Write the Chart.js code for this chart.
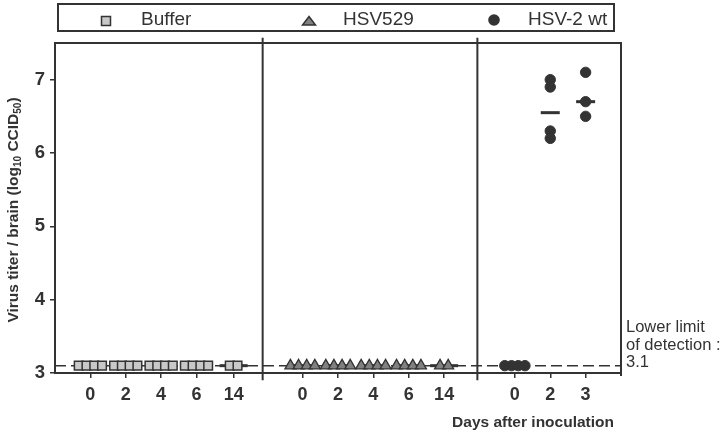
<!DOCTYPE html>
<html>
<head>
<meta charset="utf-8">
<script src="https://cdn.jsdelivr.net/npm/chart.js@4.4.1/dist/chart.umd.min.js"></script>
<style>
  body { margin: 0; background: #fff; }
  #wrap { position: relative; width: 722px; height: 434px; font-family: 'Liberation Sans', Arial, sans-serif; color: #333; }
  #legend { position: absolute; left: 57px; top: 3px; width: 554px; height: 25px; border: 2px solid #333; }
  .lg-text { position: absolute; top: 4px; font-size: 19px; line-height: 20px; white-space: nowrap; }
  .lg-mark { position: absolute; }
  #ytitle { position: absolute; left: -137px; top: 200px; width: 300px; height: 20px; line-height: 20px;
            text-align: center; font-weight: bold; font-size: 15.5px; transform: rotate(-90deg); white-space: nowrap; }
  #ytitle sub { font-size: 10px; vertical-align: -3px; line-height: 0; }
  #xtitle { position: absolute; right: 108px; top: 413px; line-height: 18px; font-weight: bold; font-size: 15.5px; white-space: nowrap; }
  #lod { position: absolute; left: 626px; top: 318px; font-size: 16.5px; line-height: 17.5px; white-space: nowrap; }
</style>
</head>
<body>
<div id="wrap">
  <canvas id="myChart" width="722" height="434"></canvas>
  <div id="legend">
    <svg class="lg-mark" style="left:41px;top:10px" width="12" height="12"><rect x="1.5" y="1.5" width="9" height="9" fill="#c8c8c8" stroke="#333" stroke-width="1.5"/></svg>
    <span class="lg-text" style="left:82px">Buffer</span>
    <svg class="lg-mark" style="left:242px;top:10px" width="16" height="12"><polygon points="8,1.5 14.5,10 1.5,10" fill="#808080" stroke="#333" stroke-width="1.5"/></svg>
    <span class="lg-text" style="left:284px">HSV529</span>
    <svg class="lg-mark" style="left:428px;top:8px" width="14" height="14"><circle cx="7" cy="7" r="5.8" fill="#333"/></svg>
    <span class="lg-text" style="left:469px">HSV-2 wt</span>
  </div>
  <div id="ytitle">Virus titer / brain (log<sub>10</sub> CCID<sub>50</sub>)</div>
  <div id="xtitle">Days after inoculation</div>
  <div id="lod">Lower limit<br>of detection :<br>3.1</div>
</div>
<script>
// kategori hari per panel dan posisinya pada sumbu x
const groupLabels = ['0', '2', '4', '6', '14', '0', '2', '4', '6', '14', '0', '2', '3'];
const groupX = [1, 2, 3, 4, 5.05, 7, 8, 9, 10, 11, 13, 14, 15];
const yTickValues = [3, 4, 5, 6, 7];
const detectionLimit = 3.1;
const panelDividers = [5.87, 11.94];

// Buffer
const bufferGroups = [0, 1, 2, 3, 4];
const bufferValues = [[3.1, 3.1, 3.1, 3.1], [3.1, 3.1, 3.1, 3.1], [3.1, 3.1, 3.1, 3.1], [3.1, 3.1, 3.1, 3.1], [3.1, 3.1]];
const bufferMeans = [3.1, 3.1, 3.1, 3.1, 3.1];

// HSV529
const hsv529Groups = [5, 6, 7, 8, 9];
const hsv529Values = [[3.1, 3.1, 3.1, 3.1], [3.1, 3.1, 3.1, 3.1], [3.1, 3.1, 3.1, 3.1], [3.1, 3.1, 3.1, 3.1], [3.1, 3.1]];
const hsv529Means = [3.1, 3.1, 3.1, 3.1, 3.1];

// HSV-2 wt
const wtGroups = [10, 11, 12];
const wtValues = [[3.1, 3.1, 3.1, 3.1], [7.0, 6.9, 6.3, 6.2], [7.1, 6.7, 6.5]];
const wtMeans = [3.1, 6.55, 6.7];

const ink = '#333';

// titik di batas deteksi disebar mendatar supaya tidak menumpuk
function toPoints(groups, values, step) {
    const pts = [];
    groups.forEach((g, gi) => {
        const vals = values[gi];
        const same = vals.every(v => v === vals[0]);
        vals.forEach((v, i) => {
            const off = same ? (i - (vals.length - 1) / 2) * step : 0;
            pts.push({ x: groupX[g] + off, y: v });
        });
    });
    return pts;
}

function toMeans(groups, means) {
    return groups.map((g, gi) => ({ x: groupX[g], y: means[gi] }));
}

const meanStyle = {
    type: 'scatter',
    pointStyle: 'line',
    pointRadius: c => (c.raw && c.raw.y <= detectionLimit ? 14 : 9.5),
    pointBorderWidth: 3,
    borderColor: ink,
    backgroundColor: ink,
    order: 1
};

const datasets = [
    {
        type: 'line', label: 'lod', data: [{ x: 0, y: detectionLimit }, { x: 16, y: detectionLimit }],
        borderColor: ink, borderWidth: 1.5, borderDash: [11, 5], pointRadius: 0, showLine: true, order: 3
    },
    ...panelDividers.map(d => ({
        type: 'line', label: 'divider', data: [{ x: d, y: 7.57 }, { x: d, y: 2.9 }],
        borderColor: ink, borderWidth: 2, pointRadius: 0, showLine: true, clip: false, order: 3
    })),
    { ...meanStyle, label: 'Buffer mean', data: toMeans(bufferGroups, bufferMeans) },
    { ...meanStyle, label: 'HSV529 mean', data: toMeans(hsv529Groups, hsv529Means) },
    { ...meanStyle, label: 'HSV-2 wt mean', data: toMeans(wtGroups, wtMeans) },
    {
        type: 'scatter', label: 'Buffer', data: toPoints(bufferGroups, bufferValues, 0.22),
        pointStyle: 'rect', pointRadius: 6.1, pointBackgroundColor: '#c8c8c8', pointBorderColor: ink, pointBorderWidth: 1.5, order: 0
    },
    {
        type: 'scatter', label: 'HSV529', data: toPoints(hsv529Groups, hsv529Values, 0.23),
        pointStyle: 'triangle', pointRadius: 6.3, pointBackgroundColor: '#808080', pointBorderColor: ink, pointBorderWidth: 1.3, order: 0
    },
    {
        type: 'scatter', label: 'HSV-2 wt', data: toPoints(wtGroups, wtValues, 0.19),
        pointStyle: 'circle', pointRadius: 5.2, pointBackgroundColor: ink, pointBorderColor: ink, pointBorderWidth: 1, order: 0
    }
];

// bingkai atas dan kanan area plot
const framePlugin = {
    id: 'frame',
    afterDraw(chart) {
        const { ctx, chartArea: a } = chart;
        ctx.save();
        ctx.strokeStyle = ink;
        ctx.lineWidth = 2;
        ctx.beginPath();
        ctx.moveTo(a.left, a.top);
        ctx.lineTo(a.right, a.top);
        ctx.lineTo(a.right, a.bottom + 3);
        ctx.stroke();
        ctx.restore();
    }
};

const ctx = document.getElementById('myChart').getContext('2d');
const chart = new Chart(ctx, {
    type: 'scatter',
    data: { datasets: datasets },
    plugins: [framePlugin],
    options: {
        responsive: false,
        animation: false,
        layout: { padding: { top: 43, right: 101, left: 0, bottom: 0 } },
        plugins: { legend: { display: false }, tooltip: { enabled: false } },
        scales: {
            x: {
                type: 'linear', min: 0, max: 16,
                afterBuildTicks: s => { s.ticks = groupX.map(v => ({ value: v })); },
                afterFit: s => { s.height = 61; },
                ticks: {
                    autoSkip: false, maxRotation: 0, padding: 6, color: ink,
                    font: { family: "'Liberation Sans', Arial, sans-serif", size: 18, weight: 'bold' },
                    callback: (v, i) => groupLabels[i]
                },
                grid: { drawOnChartArea: false, drawTicks: true, tickLength: 5, color: ink, lineWidth: 1.5 },
                border: { display: true, color: ink, width: 2 }
            },
            y: {
                type: 'linear', min: 3, max: 7.5,
                afterBuildTicks: s => { s.ticks = yTickValues.map(v => ({ value: v })); },
                afterFit: s => { s.width = 55; },
                ticks: {
                    padding: 5, color: ink,
                    font: { family: "'Liberation Sans', Arial, sans-serif", size: 18.5, weight: 'bold' }
                },
                grid: { drawOnChartArea: false, drawTicks: true, tickLength: 5, color: ink, lineWidth: 1.5 },
                border: { display: true, color: ink, width: 2 }
            }
        }
    }
});
</script>
</body>
</html>
